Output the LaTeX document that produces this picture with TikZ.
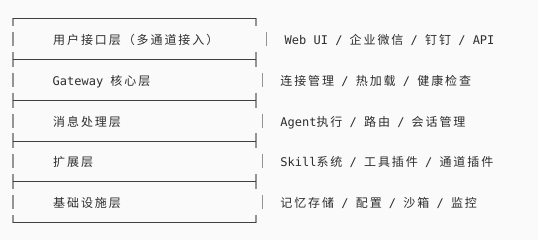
\documentclass[tikz,border=0pt]{standalone}
\usepackage{fontspec}
\newfontfamily\cjkf[LetterSpace=16]{Noto Sans CJK SC}
\newfontfamily\monof{DejaVu Sans Mono}
\newcommand\CJ[1]{{\cjkf #1}}
\definecolor{bgc}{RGB}{250,250,251}
\definecolor{txt}{RGB}{45,45,45}
\begin{document}
\begin{tikzpicture}[x=1pt,y=-1pt,
  hline/.style={draw=black!75, line width=0.9pt},
  vbar/.style={draw=black!42, line width=1.1pt},
  lbl/.style={anchor=base west, inner sep=0pt, text=txt, font=\fontsize{12}{14}\selectfont\monof}]
\fill[bgc] (0,0) rectangle (538,240);
\useasboundingbox (0,0) rectangle (538,240);
% separators
\foreach \k in {0,...,5}{
  \pgfmathsetmacro\s{18.3+40.9*\k}
  \pgfmathsetmacro\ta{\k==0 ? \s : \s-7.5}
  \pgfmathsetmacro\tb{\k==5 ? \s : \s+7.5}
  \draw[vbar] (13,\ta) -- (13,\tb);
  \draw[vbar] (256,\ta) -- (256,\tb);
  \draw[hline] (13,\s) -- (256,\s);
}
% row bars
\foreach \i in {0,...,4}{
  \pgfmathsetmacro\c{18.3+40.9*\i+20.5}
  \pgfmathsetmacro\rx{\i==0 ? 266.7 : 262.3}
  \draw[vbar] (13,\c-7) -- (13,\c+7);
  \draw[vbar] (\rx,\c-7) -- (\rx,\c+7);
}
\node[lbl] (l1) at (53.0,44.3) {\CJ{用户接口层（多通道接入）}};
\node[lbl] (r1) at (284.5,44.3) {Web UI / \CJ{企业微信} / \CJ{钉钉} / API};
\node[lbl] (l2) at (52.5,85.2) {Gateway \CJ{核心层}};
\node[lbl] (r2) at (280.2,85.2) {\CJ{连接管理} / \CJ{热加载} / \CJ{健康检查}};
\node[lbl] (l3) at (53.0,126.1) {\CJ{消息处理层}};
\node[lbl] (r3) at (280.2,126.1) {Agent\CJ{执行} / \CJ{路由} / \CJ{会话管理}};
\node[lbl] (l4) at (53.0,167.0) {\CJ{扩展层}};
\node[lbl] (r4) at (280.2,167.0) {Skill\CJ{系统} / \CJ{工具插件} / \CJ{通道插件}};
\node[lbl] (l5) at (53.0,207.9) {\CJ{基础设施层}};
\node[lbl] (r5) at (280.2,207.9) {\CJ{记忆存储} / \CJ{配置} / \CJ{沙箱} / \CJ{监控}};
\end{tikzpicture}
\end{document}
